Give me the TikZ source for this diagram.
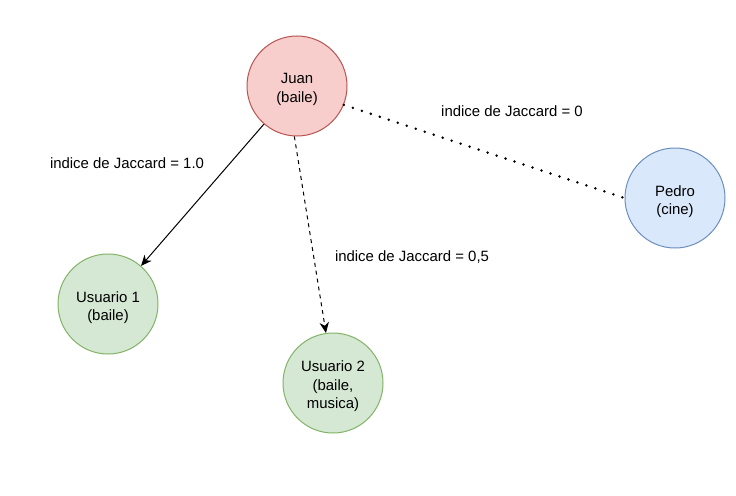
\documentclass[tikz,border=0pt]{standalone}
\usepackage{fontspec}
\setmainfont{Liberation Sans}
\usetikzlibrary{arrows.meta}
\definecolor{redfill}{HTML}{F8CECC}\definecolor{redline}{HTML}{B85450}
\definecolor{bluefill}{HTML}{DAE8FC}\definecolor{blueline}{HTML}{6C8EBF}
\definecolor{greenfill}{HTML}{D5E8D4}\definecolor{greenline}{HTML}{82B366}
\begin{document}
\begin{tikzpicture}[x=0.75pt,y=-0.75pt,
  person/.style={circle,minimum size=75pt,inner sep=0pt,line width=0.75pt,
    label={[align=center,yshift=-2.5pt,font=\fontsize{11.2}{13.8}\selectfont]center:#1}},
  redc/.style={person={#1},fill=redfill,draw=redline},
  bluec/.style={person={#1},fill=bluefill,draw=blueline},
  greenc/.style={person={#1},fill=greenfill,draw=greenline},
  lbl/.style={font=\fontsize{11.2}{13}\selectfont,inner sep=0pt},
  arr/.style={line width=0.75pt,-{Stealth[length=8pt,width=7pt,inset=2.5pt]}}]
\useasboundingbox (0,0) rectangle (736,496);
\node[redc={Juan\\(baile)}] (juan) at (297,86) {};
\node[bluec={Pedro\\(cine)}] (pedro) at (675,198) {};
\node[greenc={Usuario 1\\(baile)}] (u1) at (108,304) {};
\node[greenc={Usuario 2\\(baile,\\musica)}] (u2) at (333,383) {};
\draw[arr] (juan) -- (u1);
\draw[arr,dash pattern=on 3pt off 3pt] (juan.-93) -- (u2.98);
\draw[line width=2.1pt,line cap=round,dash pattern=on 0pt off 7.1pt] (juan.-22) -- (pedro.180);
\node[lbl] (l1) at (127,163) {indice de Jaccard = 1.0};
\node[lbl] (l2) at (412,257) {indice de Jaccard = 0,5};
\node[lbl] (l3) at (512,111) {indice de Jaccard = 0};
\end{tikzpicture}
\end{document}
